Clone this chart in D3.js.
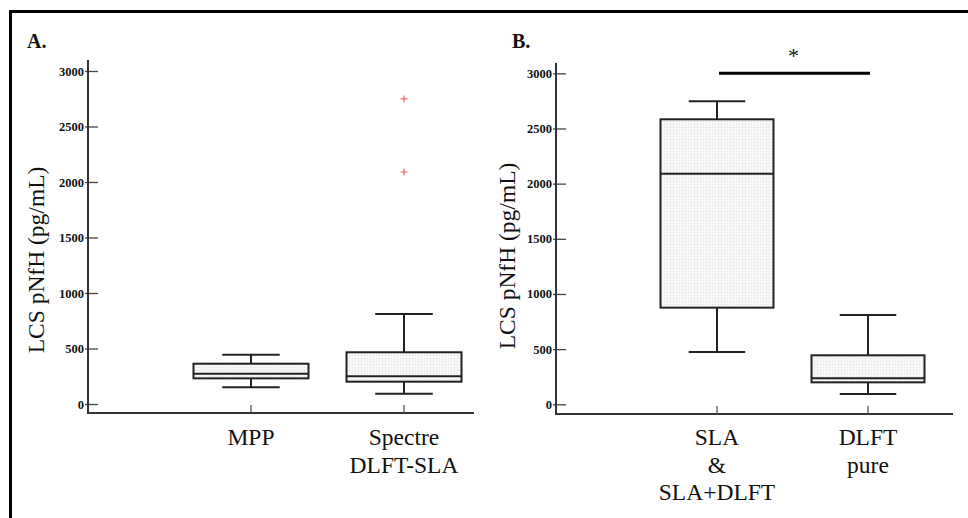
<!DOCTYPE html>
<html>
<head>
<meta charset="utf-8">
<script src="https://cdn.jsdelivr.net/npm/d3@7"></script>
<style>
  html, body { margin: 0; padding: 0; background: #fff; }
  svg { display: block; }
  text { font-family: "Liberation Serif", "Times New Roman", serif; }
</style>
</head>
<body>
<svg id="chart" width="968" height="518"></svg>
<script>
// ---- Data ----
const tickValues = [0, 500, 1000, 1500, 2000, 2500, 3000];

const categoriesA = ["MPP", "Spectre DLFT-SLA"];
const labelsA = [["MPP"], ["Spectre", "DLFT-SLA"]];
const minA    = [150, 93];
const q1A     = [231, 201];
const medianA = [273, 250];
const q3A     = [363, 466];
const maxA    = [444, 811];
const outliersA = [[], [2090, 2748]];

const categoriesB = ["SLA & SLA+DLFT", "DLFT pure"];
const labelsB = [["SLA", "&", "SLA+DLFT"], ["DLFT", "pure"]];
const minB    = [474, 93];
const q1B     = [876, 199];
const medianB = [2090, 236];
const q3B     = [2583, 444];
const maxB    = [2746, 809];
const outliersB = [[], []];

const yLabel = "LCS pNfH (pg/mL)";

// ---- Drawing ----
const svg = d3.select("#chart");

// dotted fill pattern
const defs = svg.append("defs");
const pat = defs.append("pattern").attr("id", "dots")
  .attr("width", 3).attr("height", 3).attr("patternUnits", "userSpaceOnUse");
pat.append("rect").attr("width", 3).attr("height", 3).attr("fill", "#f7f7f7");
pat.append("rect").attr("x", 1).attr("y", 1).attr("width", 1).attr("height", 1).attr("fill", "#dedede");

// outer frame
svg.append("path")
  .attr("d", "M10.5,530 V11.5 H980")
  .attr("fill", "none").attr("stroke", "#000").attr("stroke-width", 3);

function panel(cfg) {
  const g = svg.append("g");
  const y = d3.scaleLinear().domain([0, 3000]).range([cfg.y0, cfg.y3000]);
  const x = d3.scalePoint().domain(cfg.categories).range(cfg.xRange);

  // y axis
  const yAxis = d3.axisLeft(y).tickValues(tickValues).tickSize(0).tickPadding(4).tickFormat(d3.format("d"));
  const ga = g.append("g").attr("transform", `translate(${cfg.axisX},0)`).call(yAxis);
  ga.select(".domain").remove();
  ga.selectAll(".tick text")
    .attr("font-family", "'Liberation Serif', serif")
    .attr("font-weight", "bold").attr("font-size", 12.5).attr("fill", "#111");
  ga.selectAll(".tick").append("line")
    .attr("x1", -3).attr("x2", 10).attr("stroke", "#444").attr("stroke-width", 1.3);
  g.append("line").attr("x1", cfg.axisX).attr("x2", cfg.axisX)
    .attr("y1", cfg.axisTop).attr("y2", cfg.baseY + 1)
    .attr("stroke", "#333").attr("stroke-width", 2);

  // x axis
  g.append("line").attr("x1", cfg.axisX - 1).attr("x2", cfg.axisRight)
    .attr("y1", cfg.baseY).attr("y2", cfg.baseY)
    .attr("stroke", "#333").attr("stroke-width", 2);
  cfg.categories.forEach(c => {
    g.append("line").attr("x1", x(c)).attr("x2", x(c))
      .attr("y1", cfg.baseY - 8).attr("y2", cfg.baseY)
      .attr("stroke", "#555").attr("stroke-width", 1.3);
  });

  // category labels
  cfg.categories.forEach((c, i) => {
    const t = g.append("text").attr("text-anchor", "middle")
      .attr("font-size", 23.5).attr("fill", "#111");
    cfg.labels[i].forEach((line, j) => {
      t.append("tspan").attr("x", x(c)).attr("y", 445 + j * 27.5).text(line);
    });
  });

  // boxes
  const bw = cfg.boxWidth;
  cfg.categories.forEach((c, i) => {
    const cx = x(c);
    const stroke = "#222";
    // whiskers
    g.append("line").attr("x1", cx).attr("x2", cx)
      .attr("y1", y(cfg.max[i])).attr("y2", y(cfg.q3[i]))
      .attr("stroke", stroke).attr("stroke-width", 2);
    g.append("line").attr("x1", cx).attr("x2", cx)
      .attr("y1", y(cfg.q1[i])).attr("y2", y(cfg.min[i]))
      .attr("stroke", stroke).attr("stroke-width", 2);
    g.append("line").attr("x1", cx - bw / 4).attr("x2", cx + bw / 4)
      .attr("y1", y(cfg.max[i])).attr("y2", y(cfg.max[i]))
      .attr("stroke", stroke).attr("stroke-width", 2);
    g.append("line").attr("x1", cx - bw / 4).attr("x2", cx + bw / 4)
      .attr("y1", y(cfg.min[i])).attr("y2", y(cfg.min[i]))
      .attr("stroke", stroke).attr("stroke-width", 2);
    // box
    g.append("rect").attr("x", cx - bw / 2).attr("width", bw)
      .attr("y", y(cfg.q3[i])).attr("height", y(cfg.q1[i]) - y(cfg.q3[i]))
      .attr("fill", "url(#dots)").attr("stroke", stroke).attr("stroke-width", 2);
    // median
    g.append("line").attr("x1", cx - bw / 2).attr("x2", cx + bw / 2)
      .attr("y1", y(cfg.median[i])).attr("y2", y(cfg.median[i]))
      .attr("stroke", stroke).attr("stroke-width", 2);
    // outliers
    cfg.outliers[i].forEach(v => {
      g.append("path")
        .attr("d", `M${cx - 3.5},${y(v)} H${cx + 3.5} M${cx},${y(v) - 3.5} V${y(v) + 3.5}`)
        .attr("stroke", "#f06060").attr("stroke-width", 1.2).attr("fill", "none");
    });
  });

  // y label
  g.append("text")
    .attr("transform", `translate(${cfg.labelX},${cfg.labelY}) rotate(-90)`)
    .attr("text-anchor", "middle").attr("font-size", 23.5).attr("fill", "#111")
    .text(yLabel);

  // panel letter
  g.append("text").attr("x", cfg.letterX).attr("y", 48)
    .attr("font-size", 20).attr("font-weight", "bold").attr("fill", "#111")
    .text(cfg.letter);

  return { x, y, g };
}

const pA = panel({
  letter: "A.", letterX: 27,
  categories: categoriesA, labels: labelsA,
  min: minA, q1: q1A, median: medianA, q3: q3A, max: maxA, outliers: outliersA,
  y0: 404, y3000: 71, axisX: 88, axisTop: 60, baseY: 413, axisRight: 474,
  xRange: [251, 404], boxWidth: 115, labelX: 44, labelY: 260
});

const pB = panel({
  letter: "B.", letterX: 512,
  categories: categoriesB, labels: labelsB,
  min: minB, q1: q1B, median: medianB, q3: q3B, max: maxB, outliers: outliersB,
  y0: 404.3, y3000: 73.3, axisX: 556, axisTop: 63, baseY: 414, axisRight: 953,
  xRange: [717, 868], boxWidth: 113, labelX: 515, labelY: 256
});

// significance bar
const sigY = pB.y(3000);
pB.g.append("line")
  .attr("x1", pB.x(categoriesB[0]) + 2).attr("x2", pB.x(categoriesB[1]) + 2)
  .attr("y1", sigY).attr("y2", sigY)
  .attr("stroke", "#000").attr("stroke-width", 3);
pB.g.append("text")
  .attr("x", (pB.x(categoriesB[0]) + pB.x(categoriesB[1])) / 2 + 1)
  .attr("y", 63).attr("text-anchor", "middle").attr("font-size", 22).attr("fill", "#111")
  .text("*");
</script>
</body>
</html>
